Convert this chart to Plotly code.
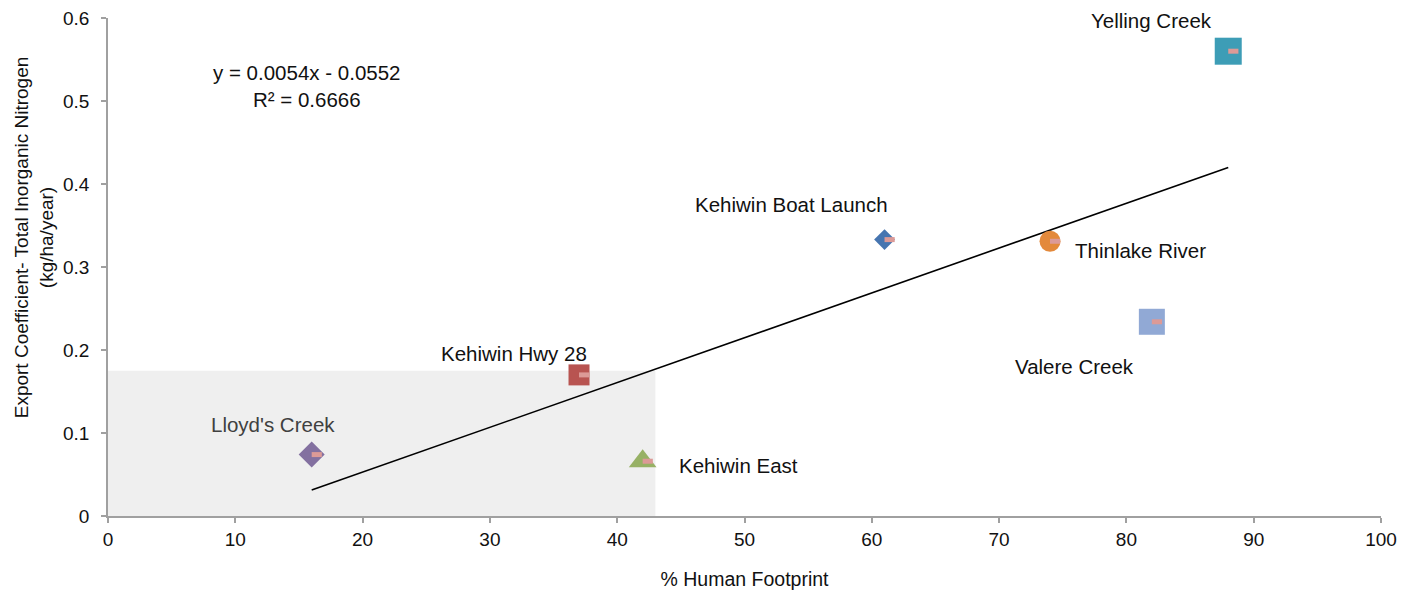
import plotly.graph_objects as go

# ---- data ----
sites = ["Lloyd's Creek", "Kehiwin Hwy 28", "Kehiwin East", "Kehiwin Boat Launch",
         "Thinlake River", "Valere Creek", "Yelling Creek"]
footprint = [16, 37, 42, 61, 74, 82, 88]
tin_export = [0.074, 0.170, 0.066, 0.333, 0.331, 0.234, 0.560]
trend_slope = 0.0054
trend_intercept = -0.0552
r_squared = 0.6666
x_ticks = [0, 10, 20, 30, 40, 50, 60, 70, 80, 90, 100]
y_ticks = [0, 0.1, 0.2, 0.3, 0.4, 0.5, 0.6]
highlight_x = [0, 43]
highlight_y = [0, 0.175]

# ---- styles ----
symbols = ["diamond", "square", "triangle-up", "diamond", "circle", "square", "square"]
sizes = [20, 21, 24, 16, 21, 26, 27]
colors = ["#8370a0", "#b85451", "#97b165", "#4675b0", "#e3893b", "#91a9d5", "#3d9db6"]
# label offsets (pixels) and anchors
label_pos = [(-39, 30, "center"), (-65, 21, "center"), (34, -4, "left"),
             (-93, 35, "center"), (23, -9, "left"), (-77, -45, "center"),
             (-77, 31, "center")]
label_colors = ["#404040"] + ["#111111"] * 6

FONT = "Liberation Sans, Arial, sans-serif"
fig = go.Figure()

fig.add_shape(type="rect", xref="x", yref="y",
              x0=highlight_x[0], x1=highlight_x[1], y0=highlight_y[0], y1=highlight_y[1],
              fillcolor="#efefef", line=dict(width=0), layer="below")

# trendline
tx = [min(footprint), max(footprint)]
ty = [trend_slope * v + trend_intercept for v in tx]
fig.add_trace(go.Scatter(x=tx, y=ty, mode="lines", line=dict(color="#000000", width=1.6),
                         showlegend=False, hoverinfo="skip"))

for i, s in enumerate(sites):
    fig.add_trace(go.Scatter(
        x=[footprint[i]], y=[tin_export[i]], mode="markers", name=s, showlegend=False,
        marker=dict(symbol=symbols[i], size=sizes[i], color=colors[i], line=dict(width=0))))

# small pink dash drawn on top of each marker
fig.add_trace(go.Scatter(
    x=footprint, y=tin_export, mode="markers", showlegend=False, hoverinfo="skip",
    marker=dict(size=1, opacity=0),
    error_x=dict(type="data", symmetric=False, array=[0.8] * len(sites),
                 arrayminus=[0.0] * len(sites), color="#dc9a97", thickness=5, width=0)))

for i, s in enumerate(sites):
    dx, dy, anc = label_pos[i]
    fig.add_annotation(x=footprint[i], y=tin_export[i], xref="x", yref="y", text=s,
                       showarrow=False, xshift=dx, yshift=dy, xanchor=anc, yanchor="middle",
                       font=dict(family=FONT, size=20.5, color=label_colors[i]))

fig.add_annotation(xref="paper", yref="paper", x=0.156, y=0.864,
                   text=f"y = {trend_slope}x - {abs(trend_intercept)}<br>R² = {r_squared}",
                   showarrow=False, xanchor="center", yanchor="middle",
                   font=dict(family=FONT, size=20.5, color="#111111"))

fig.add_annotation(xref="paper", yref="paper", x=-0.058, y=0.56, textangle=-90,
                   text="Export Coefficient- Total Inorganic Nitrogen<br>(kg/ha/year)",
                   showarrow=False, xanchor="center", yanchor="middle",
                   font=dict(family=FONT, size=19, color="#111111"))

axis_common = dict(showgrid=False, zeroline=False, showline=True, linecolor="#a0a0a0",
                   linewidth=1.5, ticks="outside", ticklen=5, tickcolor="#a0a0a0",
                   tickwidth=1.5, automargin=False, ticklabeloverflow="allow",
                   tickfont=dict(family=FONT, size=19, color="#111111"))

fig.update_layout(
    width=1415, height=596, paper_bgcolor="white", plot_bgcolor="white",
    margin=dict(l=100, r=42, t=10, b=88),
    xaxis=dict(range=[0, 100], tickvals=x_ticks, ticktext=[str(v) for v in x_ticks],
               title=dict(text="% Human Footprint", font=dict(family=FONT, size=19.5, color="#111111"),
                          standoff=24),
               **axis_common),
    yaxis=dict(range=[0, 0.6], tickvals=y_ticks, ticktext=[f"{v:g}" for v in y_ticks],
               ticklabelstandoff=8, **axis_common),
    font=dict(family=FONT),
)

fig.write_html("out.html")
